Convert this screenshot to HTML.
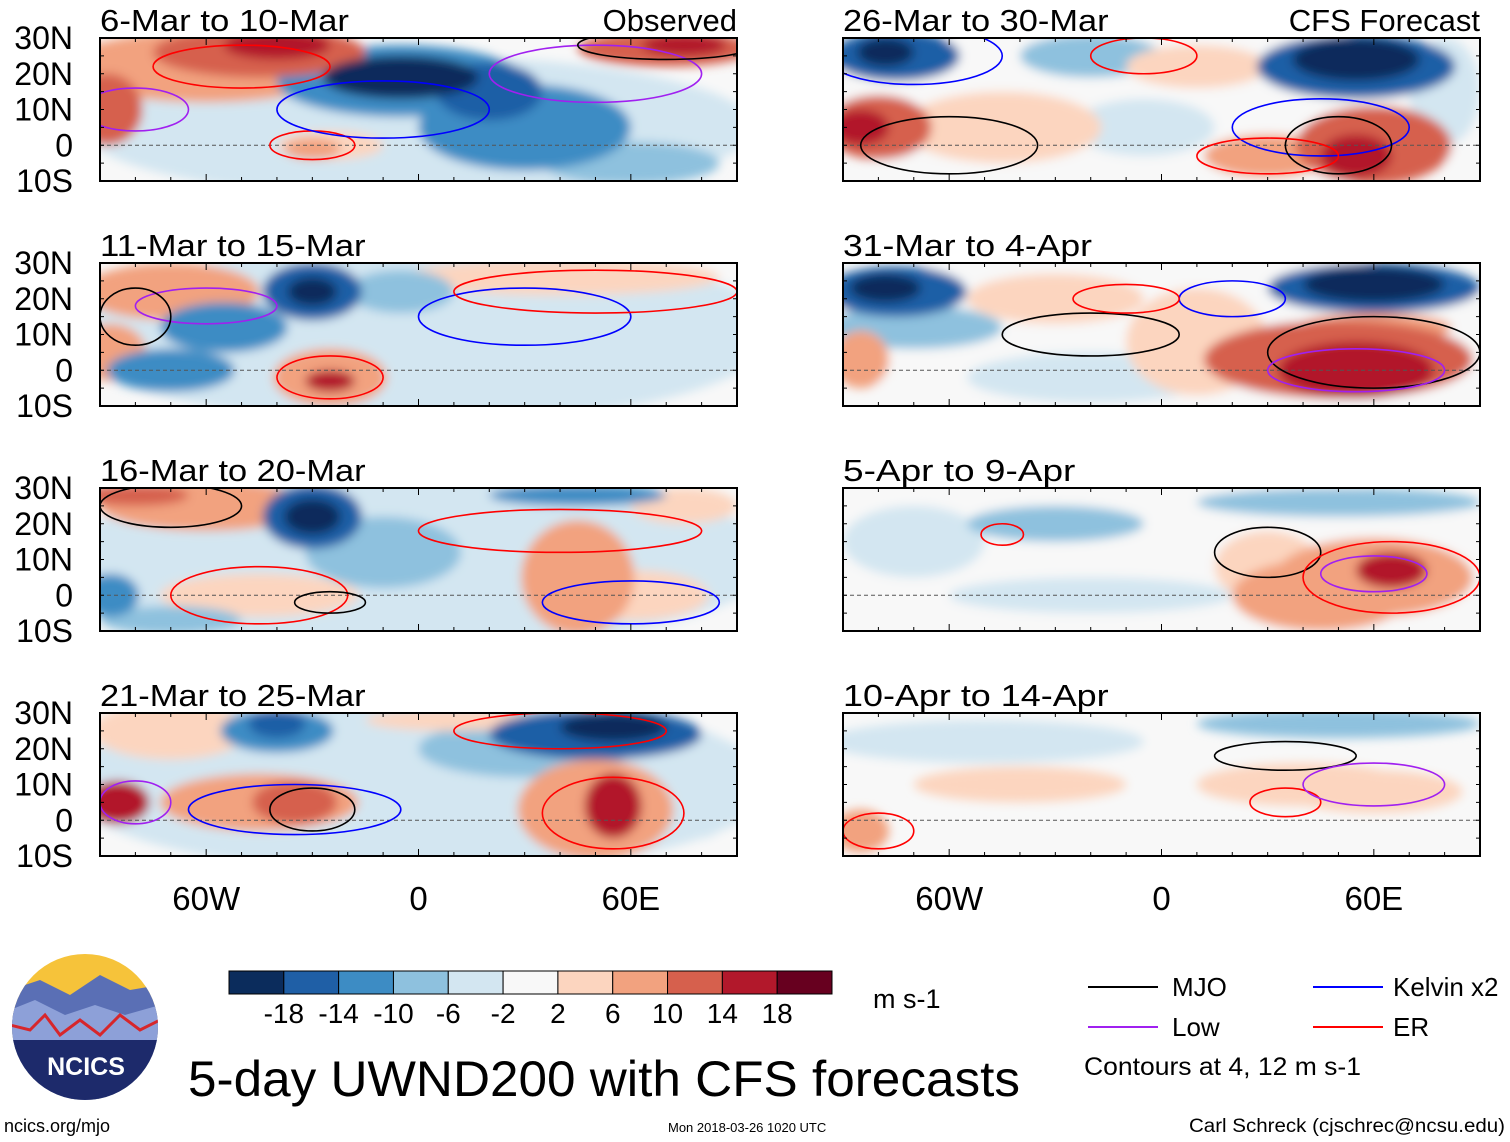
<!DOCTYPE html>
<html><head><meta charset="utf-8">
<style>
body{margin:0;background:#fff;width:1510px;height:1142px;overflow:hidden;font-family:"Liberation Sans",sans-serif;}
svg{display:block}
</style></head>
<body>
<svg id="chart" width="1510" height="1142" xmlns="http://www.w3.org/2000/svg" font-family="Liberation Sans, sans-serif">
<defs>
<filter id="blur" x="-50%" y="-50%" width="200%" height="200%"><feGaussianBlur stdDeviation="5"/></filter>
</defs>
<g id="panels"></g>
<g id="colorbar"></g>
<g>
 <clipPath id="lc"><circle cx="85" cy="1027" r="73"/></clipPath>
 <g clip-path="url(#lc)">
  <rect x="10" y="950" width="150" height="160" fill="#f6c33a"/>
  <path d="M10 990 L40 980 L70 995 L100 975 L130 990 L160 985 L160 1110 L10 1110Z" fill="#5a6fb5"/>
  <path d="M10 1010 L35 1000 L65 1015 L95 1005 L125 1015 L160 1005 L160 1110 L10 1110Z" fill="#8da0d8"/>
  <path d="M10 1025 L30 1030 L45 1015 L60 1035 L80 1020 L100 1035 L120 1015 L140 1030 L160 1020" fill="none" stroke="#d7262b" stroke-width="3"/>
  <rect x="10" y="1040" width="150" height="70" fill="#1d2a6b"/>
 </g>
 <text x="86" y="1075" text-anchor="middle" font-size="25" font-weight="bold" fill="#fff">NCICS</text>
</g>
<text x="188" y="1096" font-size="50" textLength="832" lengthAdjust="spacingAndGlyphs" fill="#000">5-day UWND200 with CFS forecasts</text>
<text x="873" y="1008" font-size="27">m s-1</text>
<g font-size="26">
 <line x1="1088" y1="987" x2="1158" y2="987" stroke="#000" stroke-width="2"/><text x="1172" y="996">MJO</text>
 <line x1="1313" y1="987" x2="1383" y2="987" stroke="#0000ff" stroke-width="2"/><text x="1393" y="996">Kelvin x2</text>
 <line x1="1088" y1="1027" x2="1158" y2="1027" stroke="#a020f0" stroke-width="2"/><text x="1172" y="1036">Low</text>
 <line x1="1313" y1="1027" x2="1383" y2="1027" stroke="#ff0000" stroke-width="2"/><text x="1393" y="1036">ER</text>
 <text x="1084" y="1075" font-size="25" textLength="277" lengthAdjust="spacingAndGlyphs">Contours at 4, 12 m s-1</text>
</g>
<text x="4" y="1132" font-size="18">ncics.org/mjo</text>
<text x="668" y="1132" font-size="13">Mon 2018-03-26 1020 UTC</text>
<text x="1505" y="1132" font-size="19" text-anchor="end" textLength="316" lengthAdjust="spacingAndGlyphs">Carl Schreck (cjschrec@ncsu.edu)</text>
</svg>
<script>
const panelTitles=["6-Mar to 10-Mar","11-Mar to 15-Mar","16-Mar to 20-Mar","21-Mar to 25-Mar","26-Mar to 30-Mar","31-Mar to 4-Apr","5-Apr to 9-Apr","10-Apr to 14-Apr"];
const latTicks=["30N","20N","10N","0","10S"];
const latVals=[30,20,10,0,-10];
const lonTicks=["60W","0","60E"];
const lonVals=[-60,0,60];
const cbLevels=[-18,-14,-10,-6,-2,2,6,10,14,18];
const cbColors=["#0b2c5c","#1f5fa6","#3d8cc4","#8ec1de","#d3e6f1","#f8f8f8","#fcd5bf","#f2a27f","#d6604d","#b2182b","#67001f"];
// blobs: [lon, lat, radiusLon, radiusLat, value]
const field0=[[0,5,95,20,-5],[-60,22,40,10,8],[-45,26,30,7,14],[-40,28,15,4,18],[-88,10,10,10,14],[-60,0,25,10,-1],[-5,18,35,10,-12],[-5,19,22,6,-18],[30,5,30,12,-10],[-25,0,15,4,6],[-30,-1,8,3,10],[70,27,25,5,12],[75,28,12,3,18],[60,-5,25,6,-8],[20,15,15,8,-14]];
const field1=[[0,10,100,25,-5],[-70,22,25,8,10],[-30,22,14,8,-14],[-30,22,7,4,-18],[-55,12,18,7,-10],[-25,-2,16,8,10],[-25,-3,7,3,18],[-87,5,10,8,8],[-70,0,18,6,-10],[40,26,45,5,6],[-5,22,15,6,-6],[50,5,20,8,-2],[80,15,15,10,-2]];
const field2=[[0,10,100,25,-4],[-60,25,30,7,8],[-80,28,15,3,12],[-30,22,14,9,-14],[-30,22,8,5,-18],[-10,12,22,10,-6],[20,15,30,12,-5],[45,5,16,16,8],[60,0,22,7,5],[-45,0,28,6,6],[-87,0,8,6,-10],[45,28,25,3,-10],[75,25,15,5,4],[-70,-7,20,4,-6]];
const field3=[[0,10,100,25,-2],[-70,25,22,8,6],[-40,25,16,6,-12],[-40,27,8,4,-16],[-45,5,28,8,8],[-35,5,12,6,14],[-85,5,9,6,16],[50,3,22,14,10],[55,4,8,9,16],[50,24,30,7,-14],[55,26,15,4,-18],[30,20,30,8,-6],[10,28,25,3,6],[-5,10,20,8,-4],[80,10,10,15,-4]];
const field4=[[0,10,100,25,2],[-75,25,18,7,-14],[-78,26,8,4,-18],[-80,5,15,9,14],[-85,5,8,5,18],[-45,5,28,10,6],[55,22,28,9,-14],[55,24,18,6,-18],[60,0,22,11,14],[55,-3,10,6,18],[30,-3,18,6,8],[-20,25,20,6,-6],[10,22,20,6,6],[-5,5,20,8,-4],[80,15,10,15,-4]];
const field5=[[0,10,100,25,2],[-75,22,20,7,-14],[-78,23,10,4,-18],[-70,12,25,6,-6],[-30,20,25,7,6],[-85,3,8,8,8],[60,23,30,7,-14],[60,24,20,5,-18],[50,3,38,11,14],[55,0,22,8,18],[60,12,22,4,10],[-20,-2,35,7,-4],[10,8,20,15,4]];
const field6=[[0,10,100,25,-1],[-30,20,25,5,-8],[-70,15,20,10,-3],[50,26,40,4,-8],[60,5,28,11,10],[65,7,10,5,18],[45,0,25,10,8],[30,8,15,10,5],[-20,0,40,5,-3]];
const field7=[[-50,22,45,6,-4],[50,27,40,4,-6],[40,10,30,6,4],[60,8,25,6,6],[-85,-3,8,6,8],[-40,10,30,5,3]];
// contours: [lon, lat, radiusLon, radiusLat, type 0=MJO 1=Kelvin 2=Low 3=ER]
const contours0=[[-50,22,25,6,3],[-30,0,12,4,3],[-10,10,30,8,1],[-80,10,15,6,2],[50,20,30,8,2],[70,28,25,4,0]];
const contours1=[[-25,-2,15,6,3],[30,15,30,8,1],[-60,18,20,5,2],[50,22,40,6,3],[-80,15,10,8,0]];
const contours2=[[-45,0,25,8,3],[-25,-2,10,3,0],[60,-2,25,6,1],[40,18,40,6,3],[-70,25,20,6,0]];
const contours3=[[-35,3,30,7,1],[-30,3,12,6,0],[55,2,20,10,3],[40,25,30,5,3],[-80,5,10,6,2]];
const contours4=[[-70,25,25,8,1],[-60,0,25,8,0],[45,5,25,8,1],[50,0,15,8,0],[-5,25,15,5,3],[30,-3,20,5,3]];
const contours5=[[-20,10,25,6,0],[20,20,15,5,1],[60,5,30,10,0],[55,0,25,6,2],[-10,20,15,4,3]];
const contours6=[[30,12,15,7,0],[65,5,25,10,3],[60,6,15,5,2],[-45,17,6,3,3]];
const contours7=[[35,18,20,4,0],[35,5,10,4,3],[60,10,20,6,2],[-80,-3,10,5,3]];
const fields=[field0,field1,field2,field3,field4,field5,field6,field7];
const conts=[contours0,contours1,contours2,contours3,contours4,contours5,contours6,contours7];
const contColors=["#000","#0000ff","#a020f0","#ff0000"];

const NS="http://www.w3.org/2000/svg";
function mk(tag,attrs,parent){const e=document.createElementNS(NS,tag);for(const k in attrs)e.setAttribute(k,attrs[k]);if(parent)parent.appendChild(e);return e;}
function colorFor(v){let i=0;while(i<cbLevels.length&&v>cbLevels[i])i++;return cbColors[i];}
const W=637,H=143;
const panelX=[100,843],panelY=[38,263,488,713];
const panelsG=document.getElementById('panels');
for(let p=0;p<8;p++){
  const x0=panelX[p<4?0:1],y0=panelY[p%4];
  const xs=lon=>x0+(lon+90)/180*W;
  const ys=lat=>y0+(30-lat)/40*H;
  const g=mk('g',{},panelsG);
  
  
  const cp=mk('clipPath',{id:'cp'+p},g);
  mk('rect',{x:x0,y:y0,width:W,height:H},cp);
  const inner=mk('g',{'clip-path':'url(#cp'+p+')'},g);
  mk('rect',{x:x0,y:y0,width:W,height:H,fill:'#f8f8f8'},inner);
  const fg=mk('g',{filter:'url(#blur)'},inner);
  const sorted=fields[p].slice().sort((a,b)=>Math.abs(a[4])-Math.abs(b[4]));
  sorted.forEach(b=>{
    const e=mk('ellipse',{cx:xs(b[0]),cy:ys(b[1]),rx:b[2]/180*W,ry:b[3]/40*H,fill:colorFor(b[4])},fg);
    
    
  });
  mk('line',{x1:x0,y1:ys(0),x2:x0+W,y2:ys(0),stroke:'#555','stroke-dasharray':'4,3','stroke-width':1},inner);
  conts[p].forEach(c=>{
    const e=mk('ellipse',{cx:xs(c[0]),cy:ys(c[1]),rx:c[2]/180*W,ry:c[3]/40*H,fill:'none',stroke:contColors[c[4]],'stroke-width':1.6},inner);
    
    
  });
  mk('rect',{x:x0,y:y0,width:W,height:H,fill:'none',stroke:'#000','stroke-width':2},g);
  for(let lon=-90;lon<=90;lon+=10){const L=(lon%60===0)?7:4;
    mk('line',{x1:xs(lon),y1:y0,x2:xs(lon),y2:y0+L,stroke:'#000'},g);
    mk('line',{x1:xs(lon),y1:y0+H,x2:xs(lon),y2:y0+H-L,stroke:'#000'},g);}
  for(let lat=-10;lat<=30;lat+=5){
    mk('line',{x1:x0,y1:ys(lat),x2:x0+4,y2:ys(lat),stroke:'#000'},g);
    mk('line',{x1:x0+W,y1:ys(lat),x2:x0+W-4,y2:ys(lat),stroke:'#000'},g);}
  const t=mk('text',{x:x0,y:y0-7,'font-size':31},g);t.textContent=panelTitles[p];
  t.setAttribute('textLength',String(panelTitles[p].length*16.6));
  t.setAttribute('lengthAdjust','spacingAndGlyphs');
  
  
  if(p<4){latVals.forEach((lv,i)=>{const tt=mk('text',{x:73,y:ys(lv)+11,'font-size':32,'text-anchor':'end'},g);tt.textContent=latTicks[i];
    
    });}
  if(p===0){const o=mk('text',{x:x0+W,y:y0-7,'font-size':31,'text-anchor':'end'},g);o.textContent='Observed';
    
    }
  if(p===4){const o=mk('text',{x:x0+W,y:y0-7,'font-size':31,'text-anchor':'end'},g);o.textContent='CFS Forecast';
    
    }
  if(p%4===3){lonVals.forEach((lv,i)=>{const tt=mk('text',{x:xs(lv),y:910,'font-size':33,'text-anchor':'middle'},g);tt.textContent=lonTicks[i];
    
    });}
}
const cb=document.getElementById('colorbar');
const cbx=229,cbw=603/11;
cbColors.forEach((c,i)=>{const r=mk('rect',{x:cbx+i*cbw,y:971,width:cbw,height:23,fill:c,stroke:'#000','stroke-width':1},cb);
  
  });
cbLevels.forEach((v,i)=>{const t=mk('text',{x:cbx+(i+1)*cbw,y:1023,'font-size':28,'text-anchor':'middle'},cb);t.textContent=v;
  
  });
</script>
</body></html>
